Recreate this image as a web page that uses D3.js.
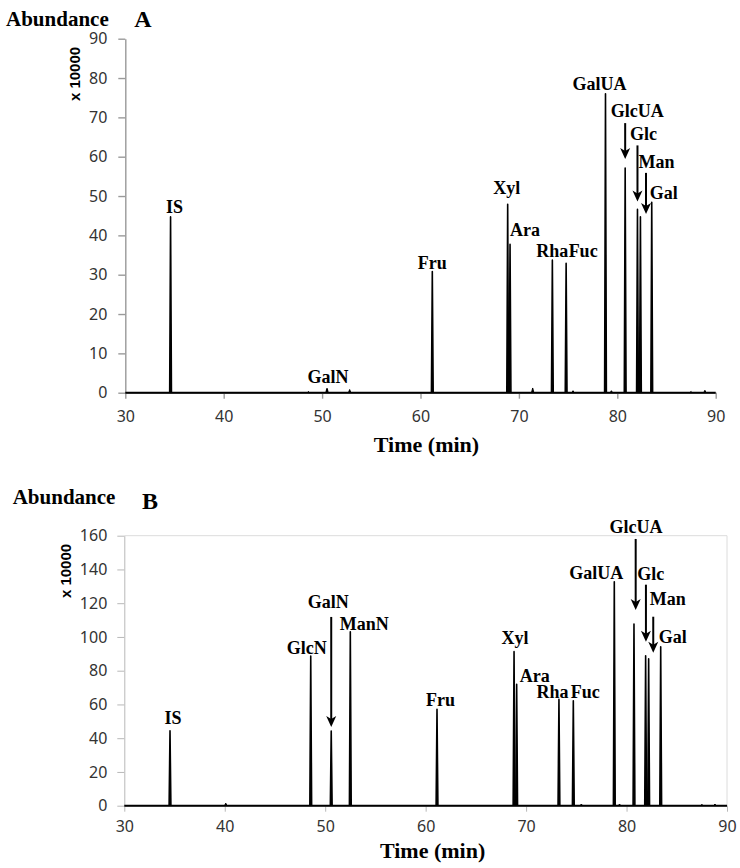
<!DOCTYPE html>
<html>
<head>
<meta charset="utf-8">
<script src="https://cdn.jsdelivr.net/npm/d3@7"></script>
<style>
    body { margin: 0; background: #fff; }
    .lbl { font-family: "Liberation Serif", "Times New Roman", serif; font-weight: bold; font-size: 18px; fill: #000; }
    .title { font-family: "Liberation Serif", "Times New Roman", serif; font-weight: bold; fill: #000; }
    .unit { font-family: "Liberation Sans", Arial, sans-serif; font-weight: bold; font-size: 15px; fill: #000; }
</style>
</head>
<body>
<svg id="chart" width="740" height="868"></svg>
<script>
// ---- data ----
const xTicks = [30, 40, 50, 60, 70, 80, 90];

const yTicksA = [0, 10, 20, 30, 40, 50, 60, 70, 80, 90];
const peakNamesA = ["IS", "GalN", "Fru", "Xyl", "Ara", "Rha", "Fuc", "GalUA", "GlcUA", "Glc", "Man", "Gal"];
const peakTimesA = [34.6, 50.5, 61.2, 68.86, 69.1, 73.4, 74.8, 78.8, 80.8, 82.05, 82.35, 83.5];
const peakHeightsA = [44.7, 1.0, 30.8, 47.9, 37.7, 33.7, 32.9, 76.0, 57.1, 46.6, 44.7, 48.4];
const minorTimesA = [48.6, 52.8, 71.4, 75.5, 79.4, 87.5, 88.9];
const minorHeightsA = [0.3, 0.8, 1.2, 0.5, 0.5, 0.3, 0.6];

const yTicksB = [0, 20, 40, 60, 80, 100, 120, 140, 160];
const peakNamesB = ["IS", "GlcN", "GalN", "ManN", "Fru", "Xyl", "Ara", "Rha", "Fuc", "GalUA", "GlcUA", "Glc", "Man", "Gal"];
const peakTimesB = [34.55, 48.56, 50.6, 52.5, 61.13, 68.8, 69.06, 73.27, 74.7, 78.78, 80.74, 81.9, 82.2, 83.4];
const peakHeightsB = [44.4, 88.7, 44.3, 103.1, 57.1, 91.3, 71.9, 63.0, 62.2, 132.7, 107.7, 88.9, 87.1, 94.2];
const minorTimesB = [40.1, 75.5, 79.3, 87.5, 88.8];
const minorHeightsB = [1.5, 1.0, 1.0, 0.8, 1.0];

// ---- label placement (pixels relative to peak top) ----
const labelLayoutA = {
    IS: { dx: 4, dy: -4 },
    GalN: { dx: 1, dy: -6 },
    Fru: { dx: 0, dy: -3 },
    Xyl: { dx: -1, dy: -10 },
    Ara: { dx: 15, dy: -8 },
    Rha: { dx: 0, dy: -3 },
    Fuc: { dx: 17, dy: -6 },
    GalUA: { dx: -6, dy: -4 },
    GlcUA: { dx: 12, dy: -51, arrow: { dx: 0, top: -45, bottom: -9 } },
    Glc: { dx: 6, dy: -69, arrow: { dx: 0, top: -64, bottom: -8 } },
    Man: { dx: 16, dy: -49, arrow: { dx: 5.6, top: -44, bottom: -3 } },
    Gal: { dx: 12, dy: -3 }
};

const labelLayoutB = {
    IS: { dx: 3, dy: -7 },
    GlcN: { dx: -4, dy: -2 },
    GalN: { dx: -3, dy: -123, arrow: { dx: 0, top: -114, bottom: -4 } },
    ManN: { dx: 14, dy: -2 },
    Fru: { dx: 3.5, dy: -3 },
    Xyl: { dx: 1, dy: -8 },
    Ara: { dx: 18, dy: -2 },
    Rha: { dx: -6.5, dy: -1 },
    Fuc: { dx: 12, dy: -3 },
    GalUA: { dx: -18, dy: -3 },
    GlcUA: { dx: 2, dy: -91, arrow: { dx: 1.7, top: -85, bottom: -14 } },
    Glc: { dx: 5, dy: -76, arrow: { dx: 0.3, top: -71, bottom: -14 } },
    Man: { dx: 19, dy: -54, arrow: { dx: 4.6, top: -42, bottom: -6 } },
    Gal: { dx: 12, dy: -4 }
};

const svg = d3.select('#chart');

function drawPanel(cfg) {
    const g = svg.append('g');

    const xScale = d3.scaleLinear().domain([30, 90]).range([cfg.left, cfg.right]);
    const yScale = d3.scaleLinear().domain([0, cfg.yMax]).range([cfg.bottom, cfg.top]);

    // light frame (panel B only)
    if (cfg.frame) {
        g.append('path')
            .attr('d', `M${cfg.left},${cfg.top}H${cfg.right}V${cfg.bottom}`)
            .attr('fill', 'none')
            .attr('stroke', '#dcdcdc')
            .attr('stroke-width', 1);
    }

    const yAxisG = g.append('g')
        .attr('transform', `translate(${cfg.left},0)`)
        .call(d3.axisLeft(yScale).tickValues(cfg.yTicks).tickSize(7).tickSizeOuter(0).tickPadding(cfg.yPad));
    const xAxisG = g.append('g')
        .attr('transform', `translate(0,${cfg.bottom})`)
        .call(d3.axisBottom(xScale).tickValues(xTicks).tickSize(6).tickSizeOuter(0).tickPadding(cfg.xPad));

    [yAxisG, xAxisG].forEach(a => {
        a.selectAll('path, line').attr('stroke', cfg.axisColor).attr('stroke-width', cfg.axisWidth);
        a.selectAll('text')
            .style('font-family', '"Noto Sans", sans-serif')
            .style('font-size', '16px')
            .style('fill', '#333');
    });

    // baseline of the trace
    g.append('line')
        .attr('x1', xScale(30)).attr('x2', xScale(90))
        .attr('y1', yScale(0)).attr('y2', yScale(0))
        .attr('stroke', '#000').attr('stroke-width', 2);

    const peakPath = (t, h, w) => d3.line()([
        [xScale(t - w), yScale(0)],
        [xScale(t), yScale(h)],
        [xScale(t + w), yScale(0)]
    ]);

    // minor bumps
    g.selectAll('.minor')
        .data(cfg.minorTimes)
        .join('path')
        .attr('class', 'minor')
        .attr('d', (t, i) => peakPath(t, cfg.minorHeights[i], 0.12))
        .attr('fill', '#000').attr('stroke', '#000').attr('stroke-width', 1);

    // peaks
    g.selectAll('.peak')
        .data(cfg.times)
        .join('path')
        .attr('class', 'peak')
        .attr('d', (t, i) => peakPath(t, cfg.heights[i], 0.09))
        .attr('fill', '#000').attr('stroke', '#000')
        .attr('stroke-width', 1.6).attr('stroke-linejoin', 'round');

    // labels and arrows
    cfg.names.forEach((name, i) => {
        const px = xScale(cfg.times[i]);
        const py = yScale(cfg.heights[i]);
        const lay = cfg.layout[name];

        g.append('text')
            .attr('class', 'lbl')
            .attr('x', px + lay.dx)
            .attr('y', py + lay.dy)
            .attr('text-anchor', 'middle')
            .text(name);

        if (lay.arrow) {
            const ax = px + lay.arrow.dx;
            const y1 = py + lay.arrow.top;
            const y2 = py + lay.arrow.bottom;
            g.append('line')
                .attr('x1', ax).attr('x2', ax)
                .attr('y1', y1).attr('y2', y2 - 6)
                .attr('stroke', '#000').attr('stroke-width', 2);
            g.append('path')
                .attr('d', `M${ax},${y2}L${ax - 5},${y2 - 11}L${ax},${y2 - 8}L${ax + 5},${y2 - 11}Z`)
                .attr('fill', '#000');
        }
    });

    // titles
    svg.append('text')
        .attr('class', 'title')
        .attr('x', cfg.absX).attr('y', cfg.absY)
        .attr('font-size', 21)
        .text('Abundance');
    svg.append('text')
        .attr('class', 'title')
        .attr('x', cfg.letterX).attr('y', cfg.letterY)
        .attr('font-size', 24)
        .attr('text-anchor', 'middle')
        .text(cfg.letter);
    svg.append('text')
        .attr('class', 'unit')
        .attr('transform', `translate(${cfg.unitX},${cfg.unitY}) rotate(-90)`)
        .attr('text-anchor', 'middle')
        .attr('dominant-baseline', 'central')
        .text('x 10000');
    svg.append('text')
        .attr('class', 'title')
        .attr('x', (cfg.left + cfg.right) / 2 + cfg.timeDx)
        .attr('y', cfg.timeY)
        .attr('font-size', 22)
        .attr('text-anchor', 'middle')
        .text('Time (min)');
}

drawPanel({
    left: 125.3, right: 715.7, top: 38.7, bottom: 392.7, yMax: 90,
    yTicks: yTicksA, yPad: 11, xPad: 12,
    axisColor: '#9a9a9a', axisWidth: 1.4, frame: false,
    names: peakNamesA, times: peakTimesA, heights: peakHeightsA,
    minorTimes: minorTimesA, minorHeights: minorHeightsA,
    layout: labelLayoutA,
    absX: 6, absY: 26, letter: 'A', letterX: 143, letterY: 27,
    unitX: 74, unitY: 74, timeDx: 6, timeY: 452
});

drawPanel({
    left: 124.3, right: 727, top: 535.7, bottom: 805.7, yMax: 160,
    yTicks: yTicksB, yPad: 10, xPad: 9,
    axisColor: '#b8b8b8', axisWidth: 1, frame: true,
    names: peakNamesB, times: peakTimesB, heights: peakHeightsB,
    minorTimes: minorTimesB, minorHeights: minorHeightsB,
    layout: labelLayoutB,
    absX: 12.7, absY: 504, letter: 'B', letterX: 150, letterY: 509,
    unitX: 65, unitY: 571, timeDx: 7, timeY: 858
});
</script>
</body>
</html>
